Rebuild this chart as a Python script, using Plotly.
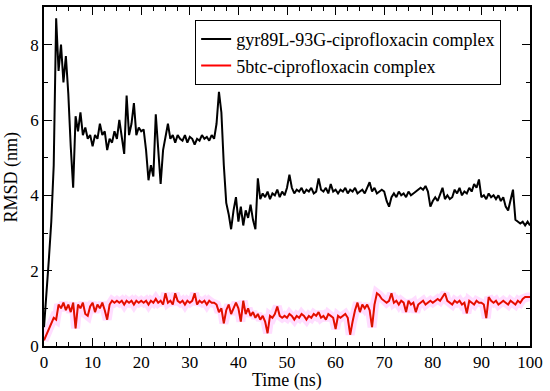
import plotly.graph_objects as go

time_ns = [i * 0.5 for i in range(201)]

rmsd_gyr = [
    0.5, 1.3, 2.3, 3.3, 4.8, 8.7, 7.3, 8.0, 7.0, 7.7,
    6.7, 5.3, 4.2, 6.1, 5.7, 6.2, 5.6, 5.8, 5.5, 5.6,
    5.3, 5.6, 5.5, 5.9, 5.6, 5.7, 5.2, 5.5, 5.4, 5.7,
    5.5, 6.0, 5.6, 5.1, 6.65, 5.6, 5.9, 6.45, 5.6, 5.8,
    5.7, 5.75, 5.2, 4.4, 4.8, 4.5, 6.15, 5.3, 4.3, 5.2,
    5.6, 5.9, 5.5, 5.6, 5.4, 5.6, 5.5, 5.45, 5.6, 5.4,
    5.55, 5.5, 5.35, 5.5, 5.45, 5.6, 5.5, 5.55, 5.45, 5.6,
    5.5, 5.9, 6.75, 6.2, 4.8, 3.8, 3.5, 3.1, 3.6, 3.95,
    3.3, 3.7, 3.2, 3.6, 3.4, 3.75, 3.35, 3.1, 4.45, 3.9,
    4.05, 3.95, 4.1, 3.9, 4.05, 4.0, 4.15, 3.95, 4.1, 4.0,
    4.2, 4.55, 4.2, 4.05, 4.15, 4.1, 4.2, 4.05, 4.15, 4.1,
    4.2, 4.05, 4.1, 4.45, 4.15, 4.1, 4.2, 4.05, 4.3, 4.1,
    4.15, 4.05, 4.15, 4.1, 4.2, 4.05, 4.15, 4.1, 4.2, 4.05,
    4.1, 4.15, 4.05, 4.2, 4.35, 4.1, 4.2, 4.05, 4.1, 4.15,
    4.1, 3.85, 3.7, 3.95, 4.05, 3.95, 4.1, 4.0, 4.05, 3.95,
    4.1, 4.0, 4.05, 4.1, 4.15, 4.2, 4.15, 4.25, 4.1, 3.7,
    3.85, 3.95, 3.85, 4.0, 4.2, 3.9, 4.0, 3.9, 3.95, 4.15,
    4.05, 4.2, 4.0, 4.1, 4.05, 4.2, 4.1, 4.3, 4.2, 4.42,
    3.95, 4.0, 3.9, 4.05, 3.95, 4.0, 3.9, 4.0, 3.85, 3.95,
    3.7, 3.6, 3.9, 4.15, 3.35, 3.3, 3.25, 3.3, 3.2, 3.3,
    3.2,
]

rmsd_5btc = [
    0.15, 0.3, 0.4, 0.55, 0.75, 0.7, 1.1, 1.0, 1.15, 0.95,
    1.1, 0.9, 1.15, 0.47, 1.1, 1.0, 1.15, 0.85, 0.8, 1.05,
    1.15, 0.9, 1.1, 1.0, 1.15, 0.95, 0.7, 1.1, 1.2, 1.15,
    1.2, 1.15, 1.2, 1.1, 1.2, 1.15, 1.2, 1.1, 1.2, 1.15,
    1.2, 1.15, 1.2, 1.1, 1.2, 1.15, 1.25, 1.15, 1.2, 1.1,
    1.4, 1.15, 1.2, 1.1, 1.4, 1.2, 1.15, 1.2, 1.1, 1.2,
    1.15, 1.2, 1.4, 1.1, 1.2, 1.15, 1.2, 1.1, 1.2, 1.15,
    1.15, 1.1, 0.9, 1.0, 0.6, 0.95, 1.1, 0.85, 1.0, 1.15,
    1.0, 0.65, 1.2, 0.85, 1.0, 0.8, 0.9, 0.75, 0.85, 0.7,
    0.8, 0.65, 0.34, 0.8, 0.75, 0.85, 1.05, 0.8, 0.75, 0.8,
    0.75, 0.85, 0.8, 0.7, 0.8, 0.75, 0.85, 0.8, 0.7, 0.8,
    0.75, 0.85, 0.8, 0.9, 0.75, 0.8, 0.7, 0.85, 0.8, 0.75,
    0.45, 0.8, 0.75, 0.8, 0.85, 0.75, 0.3, 0.65, 0.95, 1.15,
    0.9, 1.1, 1.0, 1.1, 0.95, 0.5, 1.1, 1.4, 1.35, 1.25,
    1.2, 1.15, 1.2, 1.4, 1.15, 1.2, 1.1, 1.2, 1.15, 0.9,
    1.2, 1.1, 1.15, 0.9, 1.1, 1.15, 1.2, 1.1, 1.15, 1.2,
    1.15, 1.2, 1.25, 1.2, 1.3, 1.4, 1.2, 1.15, 1.1, 1.2,
    1.15, 1.2, 1.1, 1.15, 0.87, 1.2, 1.15, 1.1, 1.2, 1.15,
    1.15, 1.1, 0.74, 1.3, 1.2, 1.15, 1.2, 1.1, 1.15, 1.2,
    1.15, 1.1, 1.2, 1.15, 1.1, 1.2, 1.15, 1.25, 1.3, 1.3,
    1.3,
]

series_names = ["gyr89L-93G-ciprofloxacin complex", "5btc-ciprofloxacin complex"]
x_title = "Time (ns)"
y_title = "RMSD (nm)"

FONT = "Liberation Serif"

fig = go.Figure()
fig.add_trace(go.Scatter(x=time_ns, y=rmsd_gyr, mode="lines", name=series_names[0],
                         line=dict(color="black", width=2)))
fig.add_trace(go.Scatter(x=time_ns, y=rmsd_5btc, mode="lines", showlegend=False,
                         hoverinfo="skip",
                         line=dict(color="rgba(255,120,255,0.25)", width=9)))
fig.add_trace(go.Scatter(x=time_ns, y=rmsd_5btc, mode="lines", name=series_names[1],
                         line=dict(color="red", width=2)))
fig.add_trace(go.Scatter(x=time_ns, y=rmsd_5btc, mode="lines", showlegend=False,
                         hoverinfo="skip",
                         line=dict(color="rgba(120,70,0,0.55)", width=0.7)))

axis_common = dict(
    showline=True, linecolor="black", linewidth=1.5, mirror="allticks",
    ticks="inside", ticklen=8, tickwidth=1.2, tickcolor="black",
    showgrid=False, zeroline=False, automargin=False,
    tickfont=dict(family=FONT, size=17, color="black"),
)

fig.update_xaxes(range=[0, 100], dtick=10, tick0=0,
                 minor=dict(ticks="inside", ticklen=4, dtick=2.5, tickcolor="black", tickwidth=1.2),
                 **axis_common)
fig.update_yaxes(range=[0, 9], dtick=2, tick0=0,
                 minor=dict(ticks="inside", ticklen=4, dtick=1, tickcolor="black", tickwidth=1.2),
                 **axis_common)

fig.add_annotation(text=x_title, xref="paper", yref="paper", x=0.5, y=-0.102,
                   xanchor="center", yanchor="middle", showarrow=False,
                   font=dict(family=FONT, size=18, color="black"))
fig.add_annotation(text=y_title, xref="paper", yref="paper", x=-0.066, y=0.5,
                   xanchor="center", yanchor="middle", showarrow=False, textangle=-90,
                   font=dict(family=FONT, size=18, color="black"))

fig.update_layout(
    width=550, height=391,
    margin=dict(l=44, r=20, t=7, b=45),
    paper_bgcolor="white", plot_bgcolor="white",
    legend=dict(x=0.311, y=0.962, xanchor="left", yanchor="top",
                bordercolor="black", borderwidth=1, bgcolor="white",
                font=dict(family=FONT, size=18, color="black"),
                tracegroupgap=0),
)

fig.write_html("out.html", config={"displayModeBar": False},
               post_script="document.body.style.margin='0';")
